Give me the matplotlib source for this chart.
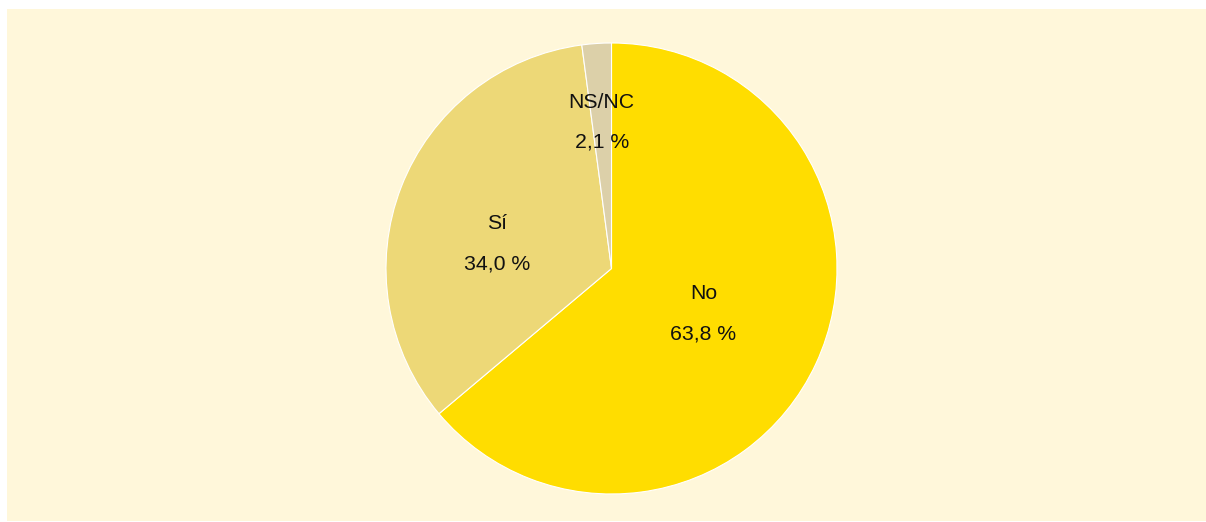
import matplotlib
matplotlib.use("Agg")
import matplotlib.pyplot as plt
import numpy as np

plt.rcParams['font.family'] = ['Liberation Sans', 'DejaVu Sans']

categories = ["No", "Sí", "NS/NC"]
values = [63.8, 34.0, 2.1]
value_labels = ["63,8 %", "34,0 %", "2,1 %"]
colors = ["#FFDD00", "#EDD877", "#DCD0A9"]

W, H = 1206, 522
fig = plt.figure(figsize=(W / 100, H / 100), dpi=100)
fig.patch.set_facecolor("white")

# cream background panel
bg = fig.add_axes([7 / W, 1 / H, (W - 7) / W, (H - 10) / H], zorder=-5)
bg.set_facecolor("#FFF7DA")
bg.set_xticks([])
bg.set_yticks([])
for s in bg.spines.values():
    s.set_visible(False)

cx, cy, R = 611.5, 268.5, 225.5
ax = fig.add_axes([(cx - R) / W, (H - cy - R) / H, 2 * R / W, 2 * R / H], zorder=1)
ax.patch.set_alpha(0)

wedges, _ = ax.pie(values, colors=colors, startangle=90, counterclock=False,
                   radius=1, center=(0, 0), frame=False,
                   wedgeprops=dict(edgecolor="white", linewidth=0.8))
ax.set_xlim(-1, 1)
ax.set_ylim(-1, 1)
ax.axis("off")

# label placement (radius fraction, angle tweak in degrees)
label_r = [0.45, 0.52, 0.66]
label_dtheta = [0.0, 8.0, 0.0]
for w, name, vl, r, dt in zip(wedges, categories, value_labels, label_r, label_dtheta):
    mid = np.deg2rad((w.theta1 + w.theta2) / 2 + dt)
    x, y = r * np.cos(mid), r * np.sin(mid) - 0.01
    ax.text(x, y + 0.089, name, ha="center", va="center", fontsize=15.3, color="#111111")
    ax.text(x, y - 0.089, vl, ha="center", va="center", fontsize=15.3, color="#111111")

fig.savefig("out.png", dpi=100)
